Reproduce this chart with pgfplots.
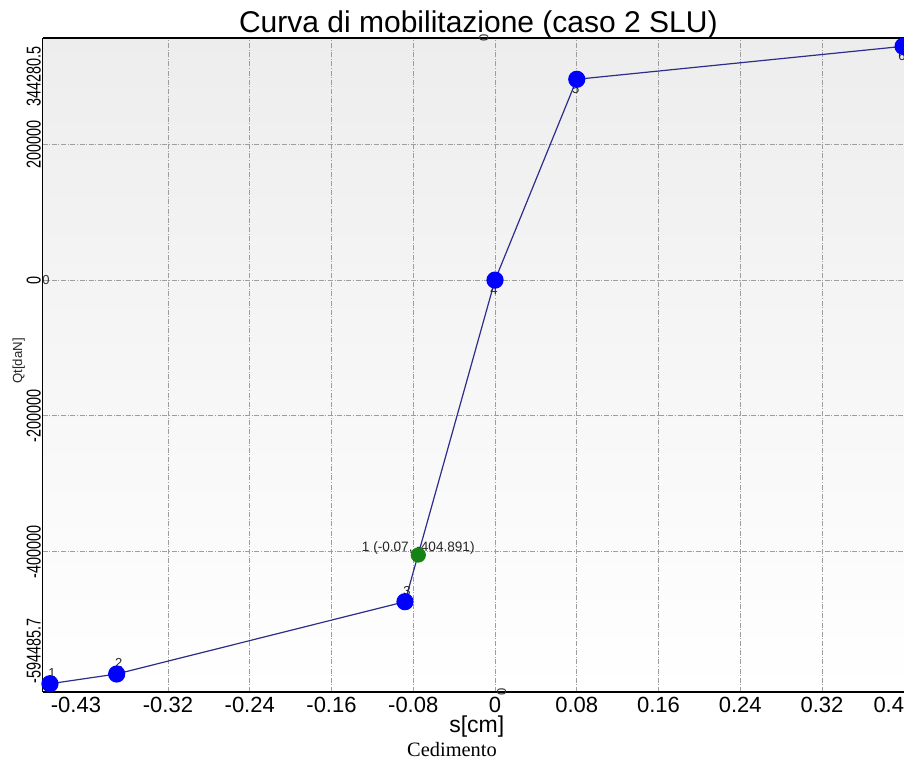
\documentclass[border=0pt]{standalone}
\usepackage{graphicx}
\usepackage{pgfplots}
\pgfplotsset{compat=1.18}
\usepackage{fontspec}
\setmainfont{Liberation Sans}
\newfontfamily\timesfont{Liberation Serif}
\definecolor{lineblue}{RGB}{45,45,140}
\definecolor{markblue}{RGB}{0,0,255}
\definecolor{markgreen}{RGB}{20,130,20}
\newcommand{\yl}[1]{\scalebox{0.72}[1]{#1}}
\begin{document}
\begin{tikzpicture}
\begin{axis}[
  at={(0,0)}, anchor=south west,
  scale only axis, width=430.65pt, height=327pt,
  xmin=-0.4426, xmax=0.4002, ymin=-606627, ymax=356554,
  axis x line=box, axis y line=left,
  every outer x axis line/.append style={-},
  every outer y axis line/.append style={-},
  every inner x axis line/.append style={-},
  every inner y axis line/.append style={-},
  axis line style={black, line width=0.8pt, -},
  clip=false,
  axis background/.style={top color=black!7, bottom color=white},
  scaled x ticks=false, scaled y ticks=false,
  /pgf/number format/assume math mode=true,
  major tick length=0pt,
  grid=major,
  major grid style={black!38, line width=0.45pt, dash pattern=on 2.5pt off 0.8pt on 0.5pt off 0.8pt},
  xtick={-0.32,-0.24,-0.16,-0.08,0,0.08,0.16,0.24,0.32},
  xticklabels={-0.32,-0.24,-0.16,-0.08,0,0.08,0.16,0.24,0.32},
  extra x ticks={-0.43,0.4},
  extra x tick labels={\hspace*{20.4pt}-0.43,0.4\hspace*{15pt}},
  extra x tick style={grid=none, major tick length=0pt},
  xticklabel style={anchor=north, inner sep=2.5pt, font=\fontsize{11}{13}\selectfont},
  ytick={-400000,-200000,0,200000},
  yticklabels={\yl{-400000},\yl{-200000},\yl{0},\yl{200000}},
  extra y ticks={-594485.7,344280.5},
  extra y tick labels={\rlap{\yl{-594485.7}},\llap{\yl{344280.5}}},
  extra y tick style={grid=none, major tick length=0pt},
  yticklabel style={rotate=90, anchor=south, inner sep=0.8pt, font=\fontsize{10}{12}\selectfont},
  xlabel={s[cm]},
  xlabel style={at={(axis description cs:0.5,0)}, anchor=base, yshift=-20.5pt, xshift=1.7pt, font=\fontsize{11.5}{13}\selectfont},
]
% point number labels (drawn under the markers)
\addplot[draw=none, mark=none, nodes near coords, point meta=explicit symbolic,
  nodes near coords align={center},
  every node near coord/.append style={font=\fontsize{6.5}{8}\selectfont, text=black!85, yshift=5.5pt, xshift=1pt}]
  coordinates {(-0.4355,-594485.7) [1] (-0.3702,-580118) [2] (-0.0881,-473638) [3]};
\addplot[draw=none, mark=none, nodes near coords, point meta=explicit symbolic,
  nodes near coords align={center},
  every node near coord/.append style={font=\fontsize{6.5}{8}\selectfont, text=black!85, yshift=-5pt, xshift=-0.5pt}]
  coordinates {(0,0) [4] (0.0800,295730) [5] (0.3993,344280.5) [6]};
% green point label
\addplot[draw=none, mark=none, nodes near coords={1 (-0.07, -404.891)},
  nodes near coords align={center},
  every node near coord/.append style={font=\fontsize{6.8}{8}\selectfont, text=black!85, yshift=3.5pt}]
  coordinates {(-0.0751,-404891)};
% curve
\addplot[lineblue, line width=0.6pt, mark=*, mark size=4pt,
  mark options={fill=markblue, draw=markblue}]
  coordinates {(-0.4355,-594485.7) (-0.3702,-580118) (-0.0881,-473638)
               (0,0) (0.0800,295730) (0.3993,344280.5)};
\addplot[only marks, mark=*, mark size=3.6pt, mark options={fill=markgreen, draw=markgreen}]
  coordinates {(-0.0751,-404891)};
% zero markers on the axes
\node[rotate=90, font=\fontsize{6.5}{7}\selectfont, inner sep=0pt, text=black!80] at (axis cs:-0.0108,356554) {0};
\node[rotate=90, font=\fontsize{6.5}{7}\selectfont, inner sep=0pt, text=black!80] at (axis cs:0.0066,-606627) {0};
\node[font=\fontsize{6.5}{7}\selectfont, inner sep=0pt, text=black!80] at (axis cs:-0.4394,0) {0};
\end{axis}
\node[anchor=base, font=\fontsize{15}{18}\selectfont] at ([xshift=2.5pt,yshift=2.5pt]current axis.north) {Curva di mobilitazione (caso 2 SLU)};
\node[rotate=90, font=\fontsize{6.6}{8}\selectfont, text=black!85] at ([xshift=-12pt,yshift=2pt]current axis.west) {Qt[daN]};
\node[anchor=base, font=\timesfont\fontsize{10.2}{12}\selectfont] at ([xshift=204.65pt,yshift=-32.5pt]current axis.south west) {Cedimento};
\pgfresetboundingbox
\path[use as bounding box] ([xshift=-21.35pt,yshift=-35pt]current axis.south west) rectangle ([yshift=19pt]current axis.north east);
\end{tikzpicture}
\end{document}
